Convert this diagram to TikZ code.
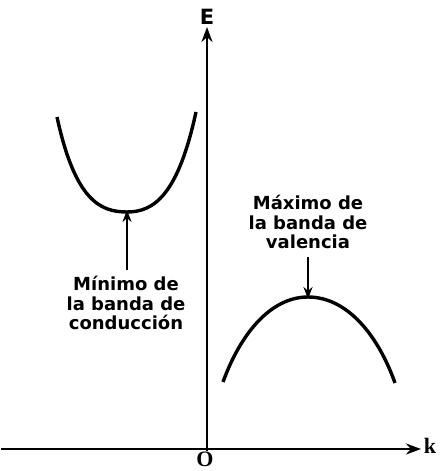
\documentclass[tikz,border=0pt]{standalone}
\usepackage{fontspec}
\setmainfont{DejaVu Sans}
\newfontfamily\serifbold{Liberation Serif}
\usetikzlibrary{arrows.meta}
\tikzset{
  axisline/.style={line width=2.8pt,-{Stealth[length=15pt,width=11pt]}},
  bandcurve/.style={line width=3.4pt},
  pointer/.style={line width=2.5pt,-{Stealth[length=12pt,width=9pt]}},
  lbl/.style={font=\bfseries\fontsize{18}{19.5}\selectfont,align=center,inner sep=0pt},
  axlbl/.style={font=\serifbold\bfseries\fontsize{22}{24}\selectfont,inner sep=0pt}
}
\begin{document}
\begin{tikzpicture}[x=1pt,y=-1pt]
\useasboundingbox (0,0) rectangle (439,471);
% axes
\coordinate (xstart) at (1,449);
\coordinate (xend) at (421,449);
\coordinate (ystart) at (207,451);
\coordinate (yend) at (207,27);
\draw[axisline] (xstart) -- (xend);
\draw[axisline] (ystart) -- (yend);
\node[axlbl] (klabel) at (430,446) {k};
\node[axlbl,anchor=south] (olabel) at (205,467) {O};
\node[font=\bfseries\fontsize{21}{23}\selectfont,inner sep=0pt] (elabel) at (207,17) {E};
% conduction band
\coordinate (cL) at (57,117);
\coordinate (cmin) at (127,212);
\coordinate (cR) at (196,112);
\draw[bandcurve] (cL) .. controls (75,200) and (100,212) .. (cmin)
  .. controls (154,212) and (178,195) .. (cR);
% valence band
\coordinate (vL) at (223,382);
\coordinate (vmax) at (308,297);
\coordinate (vR) at (395,383);
\draw[bandcurve] (vL) .. controls (240,335) and (270,297) .. (vmax)
  .. controls (347,297) and (378,335) .. (vR);
% labels
\node[lbl,anchor=north] (minlabel) at (126,276) {Mínimo de\\la banda de\\conducción};
\node[lbl,anchor=north] (maxlabel) at (308,195) {Máximo de\\la banda de\\valencia};
\coordinate (mintail) at (127,270);
\coordinate (maxtail) at (308,257);
\draw[pointer] (mintail) -- ([yshift=2pt]cmin);
\draw[pointer] (maxtail) -- ([yshift=-2pt]vmax);
\end{tikzpicture}
\end{document}
